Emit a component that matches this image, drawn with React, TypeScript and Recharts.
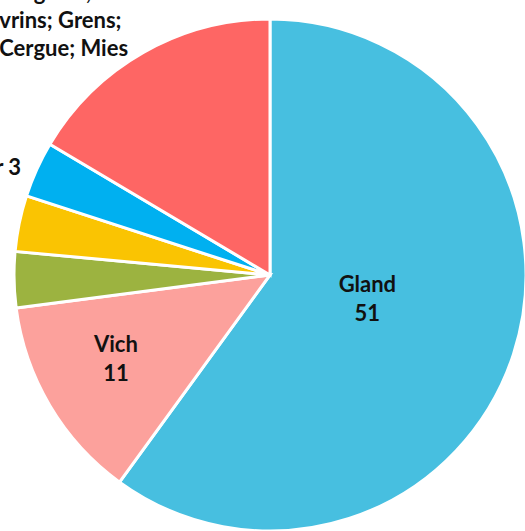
import { Cell, Pie, PieChart } from "recharts";

const communes = [
  "Gland",
  "Vich",
  "Trélex",
  "Coinsins",
  "Genolier",
  "Begnins;\nGivrins; Grens;\nSt-Cergue; Mies",
];
const inscrits = [51, 11, 3, 3, 3, 14];
const couleurs = ["#47BFE0", "#FCA19C", "#9CB340", "#FAC402", "#00B0F0", "#FE6664"];

const data = communes.map((name, i) => ({ name, value: inscrits[i] }));

const RAD = Math.PI / 180;
const FONT = "Lato, 'Open Sans', sans-serif";
const FS = 22;

function renderLabel(props: any) {
  const { cx, cy, midAngle, outerRadius, percent, name, value } = props;
  const cos = Math.cos(-midAngle * RAD);
  const sin = Math.sin(-midAngle * RAD);
  const lines: string[] = String(name).split("\n");

  // grosses parts: étiquette dans la part
  if (percent >= 0.1 && lines.length === 1) {
    const r = outerRadius * (percent > 0.5 ? 0.4 : 0.7);
    const x = cx + r * cos;
    const y = cy + r * sin;
    return (
      <text x={x} y={y} textAnchor="middle" fill="#111" fontFamily={FONT} fontWeight={700} fontSize={FS}>
        <tspan x={x} dy={-15}>{name}</tspan>
        <tspan x={x} dy={29}>{value}</tspan>
      </text>
    );
  }

  // petites parts: étiquette à l'extérieur
  const n = lines.length;
  const r = outerRadius + 15 + (n - 1) * 10.5;
  const x = cx + r * cos;
  const y = cy + r * sin;
  if (n === 1) {
    // près de l'horizontale, Excel repousse l'étiquette vers l'extérieur
    const push = Math.max(0, Math.abs(cos) - 0.92) * 800;
    return (
      <text x={x - 2 - push} y={y + 12} textAnchor="end" fill="#111" fontFamily={FONT} fontWeight={700} fontSize={FS}>
        {`${name} ${value}`}
      </text>
    );
  }
  const longest = Math.max(...lines.map((l) => l.length));
  const mx = x - longest * FS * 0.23;
  return (
    <text x={mx} y={y} textAnchor="middle" fill="#111" fontFamily={FONT} fontWeight={700} fontSize={FS}>
      {lines.map((l, i) => (
        <tspan key={i} x={mx} dy={i === 0 ? -((n - 1) * 28) / 2 + 7 : 28}>
          {l}
        </tspan>
      ))}
    </text>
  );
}

export default function App() {
  return (
    <div style={{ position: "absolute", left: 0, top: 0, width: 525, height: 531, background: "#fff" }}>
      <style>{`.recharts-pie-sectors { filter: drop-shadow(0 0 5px rgba(0,0,0,0.35)); }`}</style>
      <PieChart width={525} height={531} margin={{ top: 0, right: 0, bottom: 0, left: 0 }}>
        <Pie
          data={data}
          dataKey="value"
          nameKey="name"
          cx={270}
          cy={275}
          outerRadius={256}
          startAngle={90}
          endAngle={-270}
          stroke="#fff"
          strokeWidth={3}
          label={renderLabel}
          labelLine={false}
          isAnimationActive={false}
        >
          {data.map((d, i) => (
            <Cell key={d.name} fill={couleurs[i]} />
          ))}
        </Pie>
      </PieChart>
    </div>
  );
}
